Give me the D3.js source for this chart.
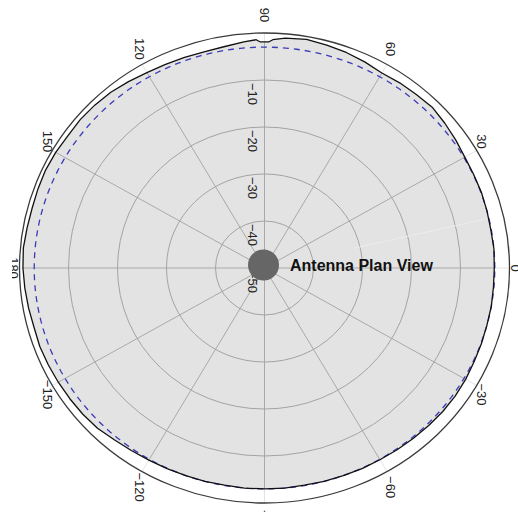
<!DOCTYPE html>
<html>
<head>
<meta charset="utf-8">
<script src="https://cdn.jsdelivr.net/npm/d3@7"></script>
<style>
  html, body { margin: 0; padding: 0; background: #fff; }
  svg { display: block; }
</style>
</head>
<body>
<svg id="chart" width="518" height="512"></svg>
<script>
// Angular tick positions (degrees, counter-clockwise from east) and their labels
const angleTicks  = [0, 30, 60, 90, 120, 150, 180, -150, -120, -90, -60, -30];
const angleLabels = ["0", "30", "60", "90", "120", "150", "180", "−150", "−120", "−90", "−60", "−30"];

// Radial grid rings (dB) and their labels
const ringValues = [-50, -40, -30, -20, -10];
const ringLabels = ["−50", "−40", "−30", "−20", "−10"];

// Measured azimuth pattern: angle (deg) and gain (dB)
const patternAngles = [
  0, 5, 10, 15, 20, 25, 30, 35, 40, 45, 50, 55, 60, 65, 70, 75, 80, 85,
  88, 89, 91, 92, 95,
  100, 105, 110, 115, 120, 125, 130, 135, 140, 145, 150, 155, 160, 165, 170, 175,
  180, 185, 190, 195, 200, 205, 210, 215, 220, 225, 230, 235, 240, 245, 250, 255,
  260, 265, 270, 275, 280, 285, 290, 295, 300, 305, 310, 315, 320, 325, 330, 335,
  340, 345, 350, 355
];
const patternGain = [
  -3.1, -3.0, -3.1, -3.0, -2.9, -2.9, -2.8, -2.4, -2.0, -1.6, -1.8, -1.9, -2.1, -1.6, -1.2, -0.9, -0.6, -0.9,
  -1.4, -1.9, -1.9, -1.4, -1.7,
  -2.2, -2.4, -2.3, -2.2, -2.0, -1.6, -1.2, -1.0, -0.9, -1.0, -0.8, -0.7, -0.8, -0.9, -0.8, -0.6,
  -0.7, -0.9, -1.1, -1.3, -1.2, -1.3, -1.4, -1.5, -1.6, -1.8, -2.3, -2.6, -2.8, -2.9, -3.0, -3.0,
  -3.1, -3.0, -3.0, -3.0, -3.1, -3.0, -3.0, -2.9, -2.9, -2.8, -2.7, -2.6, -2.5, -2.5, -2.6, -2.8,
  -2.9, -3.0, -3.0, -3.1
];

// Half-power reference level (dB)
const refLevel = -3;

const title = "Antenna Plan View";

// ---------------------------------------------------------------------------
const svg = d3.select("#chart");
const cx = 264.5, cy = 268;     // plot centre
const rx = 245, ry = 235;       // radius of the 0 dB boundary (slightly elliptical frame)

const r = d3.scaleLinear().domain([-50, 0]).range([0, 1]);
const rad = a => a * Math.PI / 180;
const px = (a, v) => cx + rx * r(v) * Math.cos(rad(a));
const py = (a, v) => cy - ry * r(v) * Math.sin(rad(a));

const pattern = patternAngles.map((a, i) => [a, patternGain[i]]);
const patternLine = d3.line()
  .x(d => px(d[0], d[1]))
  .y(d => py(d[0], d[1]))
  .curve(d3.curveLinearClosed);

const defs = svg.append("defs");
defs.append("clipPath").attr("id", "inside")
  .append("path").attr("d", patternLine(pattern));
defs.append("clipPath").attr("id", "page")
  .append("rect").attr("x", 12).attr("y", 0).attr("width", 506).attr("height", 512);

const spokes = d3.range(0, 360, 30);

// spokes outside the filled pattern (faint)
svg.append("g").selectAll("line").data(spokes).join("line")
  .attr("x1", cx).attr("y1", cy)
  .attr("x2", a => px(a, 0)).attr("y2", a => py(a, 0))
  .attr("stroke", "#e4e4e4").attr("stroke-width", 1);

// filled pattern
svg.append("path")
  .attr("d", patternLine(pattern))
  .attr("fill", "#e3e3e3")
  .attr("stroke", "none");

// grid inside the pattern
const grid = svg.append("g").attr("clip-path", "url(#inside)");
grid.selectAll("line").data(spokes).join("line")
  .attr("x1", cx).attr("y1", cy)
  .attr("x2", a => px(a, 0)).attr("y2", a => py(a, 0))
  .attr("stroke", "#a9a9a9").attr("stroke-width", 1);
grid.selectAll("ellipse").data(ringValues.slice(1)).join("ellipse")
  .attr("cx", cx).attr("cy", cy)
  .attr("rx", v => rx * r(v)).attr("ry", v => ry * r(v))
  .attr("fill", "none").attr("stroke", "#a3a3a3").attr("stroke-width", 1);

// faint seam in the fill
svg.append("line")
  .attr("x1", px(13, -31)).attr("y1", py(13, -31))
  .attr("x2", px(13, -3.5)).attr("y2", py(13, -3.5))
  .attr("stroke", "#ededed").attr("stroke-width", 1);

// outer 0 dB boundary
svg.append("ellipse")
  .attr("cx", cx).attr("cy", cy).attr("rx", rx).attr("ry", ry)
  .attr("fill", "none").attr("stroke", "#3a3a3a").attr("stroke-width", 1.3);

// -3 dB reference circle
const refPts = d3.range(0, 360, 2).map(a => [a, refLevel]);
svg.append("path")
  .attr("d", patternLine(refPts))
  .attr("fill", "none")
  .attr("stroke", "#3b3bb8").attr("stroke-width", 1.3)
  .attr("stroke-dasharray", "6,5");

// measured pattern outline
svg.append("path")
  .attr("d", patternLine(pattern))
  .attr("fill", "none")
  .attr("stroke", "#111").attr("stroke-width", 1.3)
  .attr("stroke-linejoin", "round");

// radial tick labels along the 90° spoke
svg.append("g").selectAll("text").data(ringValues).join("text")
  .attr("transform", (v, i) => `translate(${cx - 16.5},${py(90, v) + 3}) rotate(90)`)
  .attr("font-family", "Liberation Sans, Arial, sans-serif")
  .attr("font-size", 13)
  .attr("fill", "#222")
  .text((v, i) => ringLabels[i]);

// angle tick labels
svg.append("g").attr("clip-path", "url(#page)")
  .selectAll("text").data(angleTicks).join("text")
  .attr("transform", a => `translate(${cx + 251 * Math.cos(rad(a))},${cy - 253 * Math.sin(rad(a))}) rotate(90)`)
  .attr("text-anchor", "middle")
  .attr("dominant-baseline", "central")
  .attr("font-family", "Liberation Sans, Arial, sans-serif")
  .attr("font-size", 13)
  .attr("fill", "#222")
  .text((a, i) => angleLabels[i]);

// antenna marker
svg.append("circle")
  .attr("cx", cx - 1).attr("cy", cy - 3).attr("r", 15.5)
  .attr("fill", "#666");

svg.append("text")
  .attr("x", cx + 25.5).attr("y", cy + 3)
  .attr("font-family", "Liberation Sans, Arial, sans-serif")
  .attr("font-weight", "bold")
  .attr("font-size", 16)
  .attr("fill", "#111")
  .text(title);
</script>
</body>
</html>
